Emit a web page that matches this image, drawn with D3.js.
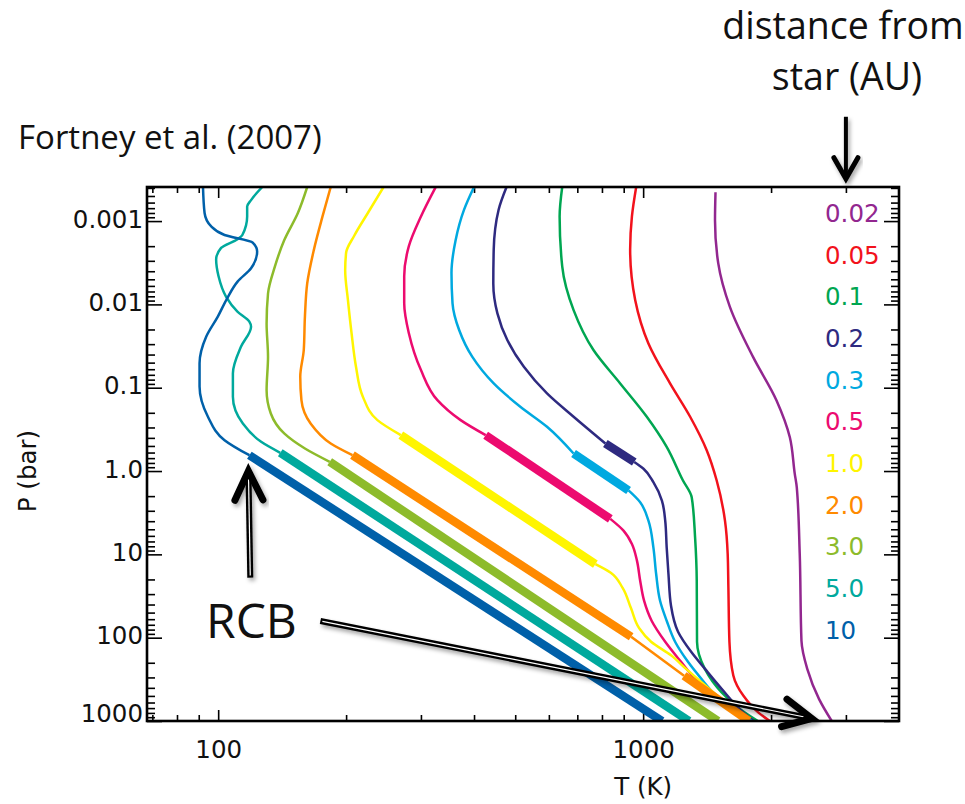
<!DOCTYPE html>
<html>
<head>
<meta charset="utf-8">
<script src="https://cdn.jsdelivr.net/npm/d3@7"></script>
<style>
  body { margin: 0; background: #fff; }
  svg { display: block; }
  .axis-lbl { font-family: 'DejaVu Sans', sans-serif; font-size: 24.5px; fill: #111; }
  .note { font-family: 'Open Sans', sans-serif; fill: #111; }
</style>
</head>
<body>
<div id="chart"></div>
<script>
// orbital distance (AU) for each model atmosphere, and the colour it is drawn in
const distances = ['0.02', '0.05', '0.1', '0.2', '0.3', '0.5', '1.0', '2.0', '3.0', '5.0', '10'];
const lineColors = ['#92278f', '#f2121c', '#00a651', '#2e2a80', '#00a9e0', '#ec0b6f', '#fff500', '#ff8a00', '#8dbb2b', '#00a99d', '#0060a9'];

// P-T profiles, [T (K), P (bar)]
const tp002 = [[1480, 4.5e-4], [1476, 9.8e-4], [1502, 3.2e-3], [1600, 0.0107], [1815, 0.043], [2060, 0.142], [2214, 0.393], [2274, 1.08], [2299, 1.57], [2336, 9.9], [2358, 109], [2433, 237], [2594, 546], [2778, 1000]];
const tp005 = [[963, 3.9e-4], [941, 8.8e-4], [932, 2.2e-3], [958, 8.9e-3], [1029, 0.0294], [1157, 0.0888], [1290, 0.223], [1411, 0.562], [1489, 1.29], [1558, 3.93], [1581, 9.9], [1587, 24.9], [1596, 112], [1630, 284], [1722, 499], [1868, 793], [1987, 1000]];
const tp01 = [[645, 3.9e-4], [636, 8.8e-4], [645, 3.5e-3], [686, 0.0117], [764, 0.0353], [883, 0.0888], [1020, 0.223], [1136, 0.512], [1240, 1.29], [1301, 2.06], [1325, 6.25], [1337, 20.7], [1339, 112], [1397, 237], [1530, 453], [1689, 716], [1862, 1000]];
const tp02 = [[477, 3.9e-4], [457, 7.3e-4], [445, 2.2e-3], [444, 5.6e-3], [454, 0.0128], [479, 0.0268], [524, 0.056], [594, 0.117], [686, 0.223], [815, 0.467], [953, 0.78], [1002, 0.94], [1057, 1.36], [1107, 2.26], [1127, 3.93], [1136, 8.24], [1147, 17.2], [1163, 41.4], [1208, 84.9], [1297, 148], [1398, 237], [1530, 411], [1722, 793], [1823, 1000]];
const tp03 = [[400, 3.9e-4], [379, 7.3e-4], [362, 1.7e-3], [354, 4.2e-3], [356, 9.7e-3], [369, 0.0203], [396, 0.0424], [445, 0.0888], [514, 0.169], [594, 0.294], [686, 0.616], [924, 1.71], [984, 2.37], [1029, 3.93], [1057, 8.24], [1073, 17.2], [1096, 36], [1136, 62.6], [1189, 112], [1275, 195], [1371, 312], [1460, 453], [1803, 1000]];
const tp05 = [[325, 3.9e-4], [300, 8.8e-4], [281, 2.0e-3], [274, 4.6e-3], [274, 9.7e-3], [281, 0.0222], [300, 0.0614], [328, 0.141], [372, 0.245], [426, 0.371], [837, 3.75], [899, 5.19], [941, 7.5], [967, 11.9], [984, 20.7], [1005, 36], [1047, 62.6], [1127, 112], [1228, 195], [1325, 312], [1783, 1000]];
const tp1 = [[245, 3.9e-4], [225, 8.0e-4], [209, 1.5e-3], [200, 2.4e-3], [199, 3.9e-3], [202, 8.9e-3], [206, 0.0222], [211, 0.056], [219, 0.128], [237, 0.245], [269, 0.371], [772, 13.1], [839, 16.6], [894, 25.1], [936, 44.1], [979, 77.1], [1044, 112], [1163, 163], [1262, 237], [1764, 1000]];
const tp2 = [[184, 3.9e-4], [176, 8.8e-4], [168, 2.2e-3], [162, 5.6e-3], [160, 0.014], [159, 0.0353], [156, 0.0738], [157, 0.141], [165, 0.269], [184, 0.467], [207, 0.645], [937, 97.5], [1248, 287], [1774, 1000]];
const tp3 = [[162, 3.9e-4], [154, 8.0e-4], [143, 1.7e-3], [136, 3.5e-3], [131, 7.4e-3], [130, 0.0169], [131, 0.0424], [130, 0.107], [133, 0.204], [143, 0.354], [160, 0.537], [183, 0.775], [1500, 1000]];
const tp5 = [[127, 3.9e-4], [119.5, 5.6e-4], [117, 6.7e-4], [117, 8.8e-4], [114, 1.47e-3], [111, 1.65e-3], [101.6, 2.1e-3], [98.9, 2.9e-3], [100.2, 4.6e-3], [104.4, 8.1e-3], [111, 0.0122], [118.4, 0.0161], [119.5, 0.0185], [113.2, 0.0321], [108.3, 0.0673], [108.3, 0.128], [114.3, 0.269], [126.2, 0.446], [140, 0.604], [1282, 1000]];
const tp10 = [[92.1, 3.9e-4], [92.9, 8.0e-4], [96.3, 1.16e-3], [103.5, 1.47e-3], [120.6, 1.81e-3], [123.5, 2.32e-3], [119.5, 3.68e-3], [111.2, 5.3e-3], [105, 8.45e-3], [99.8, 0.014], [93.7, 0.0244], [90.4, 0.051], [90.4, 0.097], [94.6, 0.223], [103.5, 0.426], [118.4, 0.646], [1108, 1000]];
const profiles = [tp002, tp005, tp01, tp02, tp03, tp05, tp1, tp2, tp3, tp5, tp10];

// convective (adiabatic) pressure ranges, drawn thick
const convZones = [[], [], [], [[0.467, 0.78]], [[0.616, 1.71]], [[0.371, 3.75]], [[0.371, 13.1]],
  [[0.645, 97.5], [287, 1000]], [[0.775, 1000]], [[0.604, 1000]], [[0.646, 1000]]];

const yTicks = [0.001, 0.01, 0.1, 1, 10, 100, 1000];
const yTickLabels = ['0.001', '0.01', '0.1', '1.0', '10', '100', '1000'];
const xTicks = [100, 1000];
const xTickLabels = ['100', '1000'];

// annotation arrows, [T, P] from tail to tip
const rcbArrowUp = [[119, 19], [117.8, 1.0]];
const rcbArrowLong = [[174, 63], [2493, 931]];
const auArrow = [[3000, 5.6e-5], [3000, 3.1e-4]];

const width = 965, height = 804;
const margin = {top: 187, right: 66, bottom: 83, left: 147};

const svg = d3.select('#chart').append('svg')
    .attr('width', width)
    .attr('height', height);

const x = d3.scaleLog().domain([68, 4000]).range([margin.left, width - margin.right]);
const y = d3.scaleLog().domain([3.9e-4, 1000]).range([margin.top, height - margin.bottom]);

const x0 = x.range()[0], x1 = x.range()[1], y0 = y.range()[0], y1 = y.range()[1];

const defs = svg.append('defs');
defs.append('clipPath').attr('id', 'clip')
  .append('rect')
    .attr('x', x0).attr('y', y0)
    .attr('width', x1 - x0).attr('height', y1 - y0);
defs.append('filter').attr('id', 'shadow')
    .attr('x', '-20%').attr('y', '-20%').attr('width', '140%').attr('height', '140%')
  .append('feDropShadow')
    .attr('dx', 2).attr('dy', 3).attr('stdDeviation', 2)
    .attr('flood-color', '#000').attr('flood-opacity', 0.35);

// tick marks on all four sides, pointing in
const minorX = [70, 80, 90, 200, 300, 400, 500, 600, 700, 800, 900, 2000, 3000];
const minorY = [];
for (let e = -4; e < 3; e++) {
  for (let m = 2; m <= 9; m++) {
    const v = m * Math.pow(10, e);
    if (v > y.domain()[0] && v < y.domain()[1]) minorY.push(v);
  }
}

function tickRow(axisFn, scale, vals, size, tx, ty) {
  const g = svg.append('g')
      .attr('transform', `translate(${tx},${ty})`)
      .call(axisFn(scale).tickValues(vals).tickSize(-size).tickFormat(''));
  g.select('.domain').remove();
  g.selectAll('line').attr('stroke', '#000').attr('stroke-width', 1.6);
}
tickRow(d3.axisBottom, x, xTicks, 11, 0, y1);
tickRow(d3.axisBottom, x, minorX, 6, 0, y1);
tickRow(d3.axisTop, x, xTicks, 11, 0, y0);
tickRow(d3.axisTop, x, minorX, 6, 0, y0);
tickRow(d3.axisLeft, y, yTicks, 15, x0, 0);
tickRow(d3.axisLeft, y, minorY, 8, x0, 0);
tickRow(d3.axisRight, y, yTicks, 15, x1, 0);
tickRow(d3.axisRight, y, minorY, 8, x1, 0);

// tick labels
const yLab = svg.append('g')
    .attr('transform', `translate(${x0},0)`)
    .call(d3.axisLeft(y).tickValues(yTicks).tickSize(0).tickPadding(4)
      .tickFormat((d, i) => yTickLabels[i]));
yLab.select('.domain').remove();
yLab.selectAll('text').attr('class', 'axis-lbl')
    .attr('dy', (d, i) => i === yTicks.length - 1 ? '0em' : '0.25em');

const xLab = svg.append('g')
    .attr('transform', `translate(0,${y1})`)
    .call(d3.axisBottom(x).tickValues(xTicks).tickSize(0).tickPadding(20)
      .tickFormat((d, i) => xTickLabels[i]));
xLab.select('.domain').remove();
xLab.selectAll('text').attr('class', 'axis-lbl');

svg.append('text').attr('class', 'axis-lbl')
    .attr('x', x(1000)).attr('y', 795)
    .attr('text-anchor', 'middle')
    .text('T (K)');
svg.append('text').attr('class', 'axis-lbl')
    .attr('transform', `translate(36,${y(1)}) rotate(-90)`)
    .attr('text-anchor', 'middle')
    .text('P (bar)');

// split a profile into thin (radiative) and thick (convective) runs
function splitRuns(pts, zones) {
  const thickSeg = (a, b) => zones.some(z => a[1] >= z[0] && b[1] <= z[1]);
  const runs = [];
  let cur = null;
  for (let i = 0; i < pts.length - 1; i++) {
    const t = thickSeg(pts[i], pts[i + 1]);
    if (!cur || cur.thick !== t) {
      cur = {thick: t, pts: [pts[i]]};
      runs.push(cur);
    }
    cur.pts.push(pts[i + 1]);
  }
  return runs;
}

const thinLine = d3.line()
    .x(d => x(d[0])).y(d => y(d[1]))
    .curve(d3.curveMonotoneY);
const thickLine = d3.line()
    .x(d => x(d[0])).y(d => y(d[1]));

const plot = svg.append('g').attr('clip-path', 'url(#clip)');

profiles.forEach((pts, i) => {
  const g = plot.append('g').attr('class', 'profile');
  splitRuns(pts, convZones[i]).forEach(run => {
    g.append('path')
        .datum(run.pts)
        .attr('fill', 'none')
        .attr('stroke', lineColors[i])
        .attr('stroke-width', run.thick ? 8.5 : 2.5)
        .attr('stroke-linejoin', 'round')
        .attr('d', run.thick ? thickLine : thinLine);
  });
});

// frame
svg.append('rect')
    .attr('x', x0).attr('y', y0)
    .attr('width', x1 - x0).attr('height', y1 - y0)
    .attr('fill', 'none')
    .attr('stroke', '#000')
    .attr('stroke-width', 2.6);

// legend
const legend = svg.append('g').attr('transform', 'translate(825,213)');
legend.selectAll('text')
  .data(distances)
  .join('text')
    .attr('class', 'axis-lbl')
    .attr('y', (d, i) => i * 41.7)
    .attr('dy', '0.36em')
    .style('fill', (d, i) => lineColors[i])
    .text(d => d);

// annotations
svg.append('text').attr('class', 'note')
    .attr('x', 18).attr('y', 149)
    .attr('font-size', 33)
    .text('Fortney et al. (2007)');
svg.append('text').attr('class', 'note')
    .attr('x', 843).attr('y', 39)
    .attr('text-anchor', 'middle')
    .attr('font-size', 37.5)
    .text('distance from');
svg.append('text').attr('class', 'note')
    .attr('x', 847).attr('y', 90)
    .attr('text-anchor', 'middle')
    .attr('font-size', 37.5)
    .text('star (AU)');
svg.append('text').attr('class', 'note')
    .attr('x', 206).attr('y', 638)
    .attr('font-size', 48)
    .text('RCB');

function arrow(ends, opts) {
  const [a, b] = ends.map(p => [x(p[0]), y(p[1])]);
  const ang = Math.atan2(b[1] - a[1], b[0] - a[0]);
  const ux = Math.cos(ang), uy = Math.sin(ang);
  const back = [b[0] - ux * opts.depth, b[1] - uy * opts.depth];
  const w1 = [back[0] - uy * opts.half, back[1] + ux * opts.half];
  const w2 = [back[0] + uy * opts.half, back[1] - ux * opts.half];
  const g = svg.append('g').attr('filter', 'url(#shadow)');
  g.append('line')
      .attr('x1', a[0]).attr('y1', a[1])
      .attr('x2', b[0] - ux * 3).attr('y2', b[1] - uy * 3)
      .attr('stroke', '#000').attr('stroke-width', opts.shaft);
  if (opts.double) {
    g.append('line')
        .attr('x1', a[0] + ux * 2).attr('y1', a[1] + uy * 2)
        .attr('x2', b[0] - ux * 6).attr('y2', b[1] - uy * 6)
        .attr('stroke', '#fff').attr('stroke-width', 1.2);
  }
  g.append('polyline')
      .attr('points', [w1, b, w2].map(p => p.join(',')).join(' '))
      .attr('fill', 'none')
      .attr('stroke', '#000')
      .attr('stroke-width', opts.head)
      .attr('stroke-linecap', 'round')
      .attr('stroke-linejoin', 'miter');
}
arrow(rcbArrowUp, {depth: 29, half: 14, shaft: 6, head: 7, double: true});
arrow(rcbArrowLong, {depth: 28, half: 14, shaft: 6, head: 7, double: true});
arrow(auArrow, {depth: 21, half: 12, shaft: 4, head: 5, double: false});
</script>
</body>
</html>
